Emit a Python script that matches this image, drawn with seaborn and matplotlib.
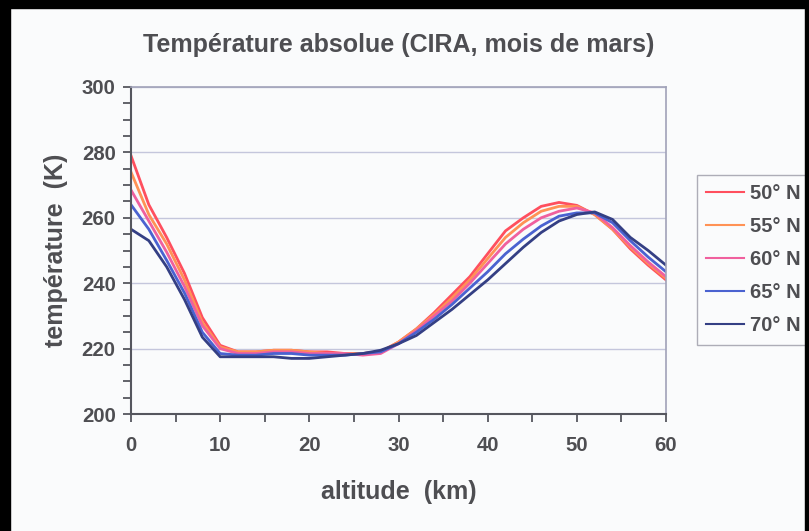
import numpy as np
import pandas as pd
import matplotlib.pyplot as plt
import seaborn as sns
from matplotlib.patches import Rectangle
from matplotlib.ticker import MultipleLocator

altitude = list(range(0, 62, 2))

t50 = [279, 264, 254, 243, 229.5, 221, 219, 219, 219.5, 219.5, 219, 219, 218.5, 218.5, 219,
       222, 226, 231, 236.5, 242, 249, 256, 260, 263.5, 264.7, 263.8, 261, 256.5, 250.5, 245.5, 241]
t55 = [274, 261, 252, 241, 228, 220.5, 219, 219, 219.5, 219.5, 219, 218.5, 218.5, 218.5, 219,
       222, 226, 230.5, 235.5, 241, 247.5, 254, 258.5, 262, 263.5, 263.5, 261, 256.5, 251, 246, 241.5]
t60 = [268.5, 259, 249.5, 239, 227, 220, 218.5, 218.5, 219, 219, 218.5, 218.5, 218.5, 218, 218.5,
       221.5, 225.5, 230, 234.5, 240, 246, 252, 256.5, 260, 262, 263, 261.5, 257, 251.5, 246.5, 242]
t65 = [264, 256.5, 247, 237, 225, 218.5, 218, 218, 218.5, 218.5, 218, 218, 218, 218.5, 219,
       221.5, 225, 229, 233.5, 238.5, 243.5, 249, 253.5, 257.5, 260.5, 261.5, 261.5, 258.5, 253, 248, 243.5]
t70 = [256.5, 253, 245, 235, 223.5, 217.5, 217.5, 217.5, 217.5, 217, 217, 217.5, 218, 218.5, 219.5,
       221.5, 224, 228, 232, 236.5, 241, 246, 251, 255.5, 259, 261, 261.8, 259.5, 254, 250, 245.5]

latitudes = ["50° N", "55° N", "60° N", "65° N", "70° N"]
colors = ["#ff4f5e", "#ff9255", "#f0609e", "#4a62d0", "#343f84"]

df = pd.DataFrame({"altitude": altitude, "50° N": t50, "55° N": t55, "60° N": t60,
                   "65° N": t65, "70° N": t70})
long = df.melt(id_vars="altitude", var_name="lat", value_name="temp")

txt = "#4e4e52"
plt.rcParams['font.family'] = ['Liberation Sans', 'DejaVu Sans']
plt.rcParams['font.weight'] = 'bold'

fig = plt.figure(figsize=(8.09, 5.31), dpi=100, facecolor="#fafbfc")
ax = fig.add_axes([131 / 809, 1 - 414 / 531, 535 / 809, 327 / 531])
ax.set_facecolor("#fafbfc")

sns.lineplot(data=long, x="altitude", y="temp", hue="lat", hue_order=latitudes,
             palette=colors, linewidth=2, ax=ax, legend=True)

ax.set_xlim(0, 60)
ax.set_ylim(200, 300)
ax.xaxis.set_major_locator(MultipleLocator(10))
ax.xaxis.set_minor_locator(MultipleLocator(5))
ax.yaxis.set_major_locator(MultipleLocator(20))
ax.yaxis.set_minor_locator(MultipleLocator(5))
ax.grid(axis="y", which="major", color="#c4c6dc", linewidth=1)
ax.set_axisbelow(True)

for s in ["left", "bottom"]:
    ax.spines[s].set_color("#55565e")
    ax.spines[s].set_linewidth(1.5)
for s in ["top", "right"]:
    ax.spines[s].set_color("#a0a2b8")
    ax.spines[s].set_linewidth(1.2)

ax.tick_params(which="both", direction="out", color="#55565e", width=1.3)
ax.tick_params(which="major", length=6, labelsize=14.7, labelcolor=txt, pad=5)
ax.tick_params(which="minor", length=6)
ax.tick_params(axis="x", pad=10)

ax.set_xlabel("altitude  (km)", fontsize=18, color=txt, fontweight="bold", labelpad=18)
ax.set_ylabel("température  (K)", fontsize=18, color=txt, fontweight="bold", labelpad=10)
ax.set_title("Température absolue (CIRA, mois de mars)", fontsize=18, color=txt,
             fontweight="bold", pad=25)

leg = ax.legend(loc="upper left", bbox_to_anchor=(697 / 809, 1 - 175 / 531),
                bbox_transform=fig.transFigure, borderaxespad=0, frameon=True, fancybox=False,
                fontsize=14.5, handlelength=1.9, labelspacing=0.7, borderpad=0.45,
                handletextpad=0.3)
leg.get_frame().set_edgecolor("#9a9aa6")
leg.get_frame().set_facecolor("#fafbfc")
leg.get_frame().set_linewidth(1)
for t in leg.get_texts():
    t.set_color(txt)
for h in leg.get_lines():
    h.set_linewidth(1.5)

# black frame of the scanned slide
fig.patches.append(Rectangle((0, 0), 10 / 809, 1, transform=fig.transFigure,
                             color="black", zorder=10))
fig.patches.append(Rectangle((0, 1 - 8 / 531), 1, 8 / 531, transform=fig.transFigure,
                             color="black", zorder=10))
fig.patches.append(Rectangle((1 - 4 / 809, 0), 4 / 809, 1, transform=fig.transFigure,
                             color="black", zorder=10))

fig.savefig("out.png", dpi=100, facecolor=fig.get_facecolor())
